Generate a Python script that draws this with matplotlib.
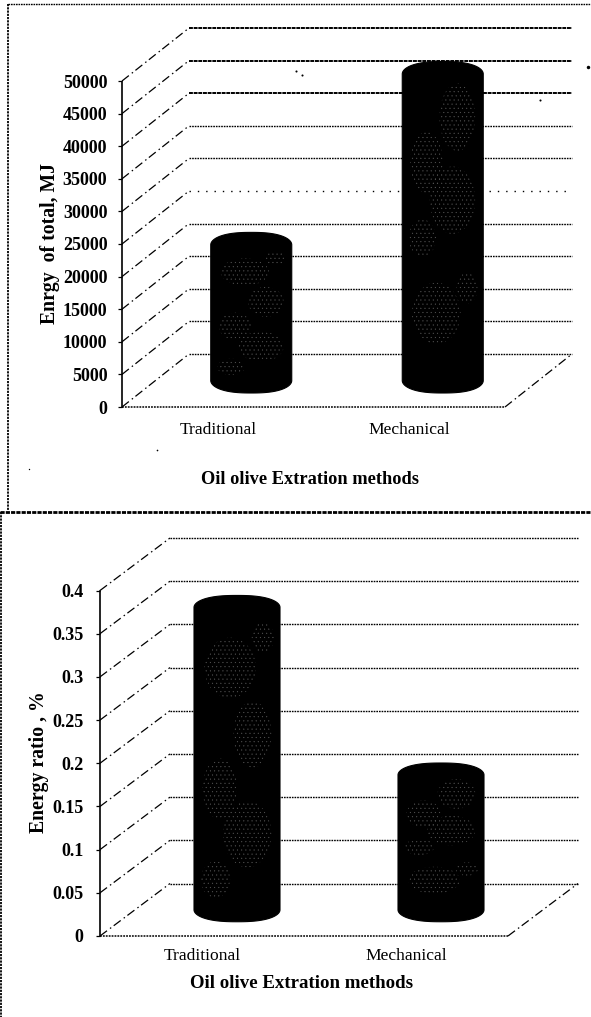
import numpy as np
import matplotlib
matplotlib.use("Agg")
import matplotlib.pyplot as plt
from matplotlib.lines import Line2D
from matplotlib.patches import Polygon, Ellipse

# ---- data ----
categories = ["Traditional", "Mechanical"]
energy_total = [20800, 47000]
energy_ratio = [0.35, 0.156]
ticks_total = [0, 5000, 10000, 15000, 20000, 25000, 30000, 35000, 40000, 45000, 50000]
ticks_ratio = [0, 0.05, 0.1, 0.15, 0.2, 0.25, 0.3, 0.35, 0.4]
ticklabels_ratio = ["0", "0.05", "0.1", "0.15", "0.2", "0.25", "0.3", "0.35", "0.4"]
ylabel_total = "Enrgy  of total, MJ"
ylabel_ratio = "Energy ratio , %"
xlabel_common = "Oil olive Extration methods"

W, H = 591, 1017
plt.rcParams["font.family"] = ["Liberation Serif", "DejaVu Serif"]
plt.rcParams["hatch.linewidth"] = 0.25
fig = plt.figure(figsize=(W / 100, H / 100), dpi=100, facecolor="white")

# patchy grain on the cylinders: (fraction across, fraction up, half width, half height)
GRAIN = [
    (0.42, 0.80, 0.30, 0.10), (0.68, 0.58, 0.22, 0.11), (0.30, 0.40, 0.20, 0.10),
    (0.62, 0.25, 0.28, 0.11), (0.25, 0.10, 0.17, 0.06), (0.80, 0.90, 0.13, 0.05),
]
DASH = (0, (7, 3, 1.2, 2.5))
DOT = (0, (1.2, 0.7))


def fx(px):
    return px / W


def fy(py):
    return 1 - py / H


def panel(values, ticks, ticklabels, ylabel, left, y0, front_w, plot_h, dx_px, dy_px,
          half_w, ry, ypad, xpad, ylab_xy, xlab_xy, heavy, faint, xlab_size):
    ymax = ticks[-1]
    ax = fig.add_axes([fx(left), fy(y0), (front_w + dx_px) / W, (plot_h + dy_px) / H])
    ax.patch.set_alpha(0)
    per_cat = front_w / 2
    per_val = plot_h / ymax
    ddx, ddy = dx_px / per_cat, dy_px / per_val
    ax.set_xlim(-0.5, 1.5 + ddx)
    ax.set_ylim(0, ymax + ddy)
    for s in ("top", "right", "bottom"):
        ax.spines[s].set_visible(False)
    ax.spines["left"].set_bounds(0, ymax)
    ax.spines["left"].set_linestyle((0, (1, 1)))
    ax.spines["left"].set_linewidth(1.2)

    ax.set_yticks(ticks)
    ax.set_yticklabels(ticklabels, fontsize=13, fontweight="bold")
    ax.tick_params(axis="y", length=3, width=0.9, pad=ypad)
    ax.set_xticks(range(len(categories)))
    ax.set_xticklabels(categories, fontsize=12.6)
    ax.tick_params(axis="x", length=0, pad=xpad)

    ax.set_ylabel(ylabel, fontsize=14.2, fontweight="bold", va="center")
    ax.yaxis.set_label_coords(fx(ylab_xy[0]), fy(ylab_xy[1]), transform=fig.transFigure)
    ax.set_xlabel(xlabel_common, fontsize=xlab_size, fontweight="bold", va="center")
    ax.xaxis.set_label_coords(fx(xlab_xy[0]), fy(xlab_xy[1]), transform=fig.transFigure)

    xl, xr = -0.5, 1.5
    for t in ticks:
        lw = 1.4 if t in heavy else 1.0
        ls = (0, (1, 5)) if t in faint else ((0, (2, 0.4)) if t in heavy else DOT)
        ax.plot([xl + ddx, xr + ddx], [t + ddy, t + ddy], color="black", lw=lw,
                ls=ls, zorder=1, clip_on=False)
        ax.plot([xl, xl + ddx], [t, t + ddy], color="black", lw=0.9,
                ls=DASH, zorder=1, clip_on=False)
    ax.plot([xl, xr], [0, 0], color="black", lw=1.1, ls=DOT, zorder=1, clip_on=False)
    ax.plot([xr, xr + ddx], [0, ddy], color="black", lw=0.9, ls=DASH, zorder=1, clip_on=False)

    # cylinders
    hw, rd = half_w / per_cat, ry / per_val
    th = np.linspace(0, np.pi, 80)
    cs, sn = np.cos(th), np.sin(th)
    boxy = np.sign(cs) * np.abs(cs) ** 0.8
    for i, v in enumerate(values):
        cx, by = i + ddx / 2, ddy / 2
        top_y = v + ddy / 2
        xs_top = cx + hw * boxy
        ys_top = top_y + rd * sn
        xs_bot = cx - hw * boxy
        ys_bot = by - rd * sn
        body = np.column_stack([np.r_[xs_top, xs_bot], np.r_[ys_top, ys_bot]])
        ax.add_patch(Polygon(body, closed=True, fc="black", ec="black", lw=0.8,
                             zorder=3, clip_on=False))
        height = top_y - by
        for ga, gb, grx, gry in GRAIN:
            gb2 = (gb + 0.37 * i) % 1 * 0.82 + 0.08 if i else gb
            ax.add_patch(Ellipse((cx - hw + 2 * hw * ga, by + height * gb2),
                                 2 * 2 * hw * grx, 2 * height * gry,
                                 fc="none", ec="#555555", lw=0, hatch="....", zorder=4))
    return ax


panel(energy_total, ticks_total, [str(t) for t in ticks_total], ylabel_total,
      left=122, y0=407, front_w=383, plot_h=326, dx_px=67, dy_px=53,
      half_w=40.5, ry=12.5, ypad=7.5, xpad=10.5, ylab_xy=(50, 244), xlab_xy=(310, 479),
      heavy={50000, 45000, 40000}, faint={25000}, xlab_size=13.2)
panel(energy_ratio, ticks_ratio, ticklabels_ratio, ylabel_ratio,
      left=100, y0=936, front_w=408, plot_h=345.5, dx_px=70, dy_px=52.5,
      half_w=43, ry=12, ypad=9, xpad=9, ylab_xy=(39, 762), xlab_xy=(302, 984),
      heavy=set(), faint=set(), xlab_size=13.6)

# page frames around the two panels
frame = [
    ((8, 8), (4, 511), 1.3, (0, (1.2, 0.6))),
    ((8, 591), (4, 4), 1.0, (0, (1.2, 0.6))),
    ((0, 591), (512, 512), 2.0, (0, (1.5, 0.4))),
    ((1, 1), (512, 1017), 1.3, (0, (1.2, 0.6))),
]
for xs, ys, lw, ls in frame:
    fig.add_artist(Line2D([fx(x) for x in xs], [fy(y) for y in ys], color="black", lw=lw, ls=ls))

# scan specks
for (sx, sy, ms) in [(588, 67, 2.5), (540, 100, 1.5), (296, 71, 1.5), (302, 75, 1.5),
                     (157, 450, 1.2), (29, 469, 1.0)]:
    fig.add_artist(Line2D([fx(sx)], [fy(sy)], marker="o", ms=ms, color="black", mew=0, ls="none"))

fig.savefig("out.png", dpi=100, facecolor="white")
